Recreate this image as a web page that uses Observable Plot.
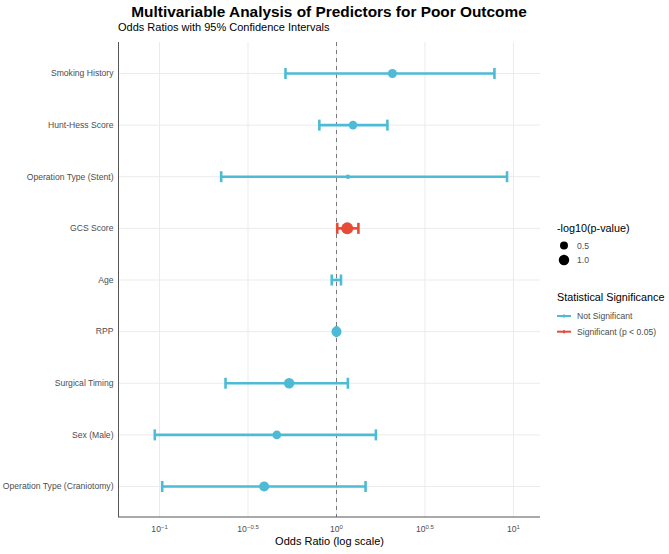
<!DOCTYPE html>
<html>
<head>
<meta charset="utf-8">
<script src="https://cdn.jsdelivr.net/npm/d3@7"></script>
<script src="https://cdn.jsdelivr.net/npm/@observablehq/plot@0.6"></script>
<style>
  body { margin: 0; background: #fff; font-family: "Liberation Sans", Arial, sans-serif; }
  #wrap { position: relative; width: 669px; height: 554px; overflow: hidden; }
  #title { position: absolute; left: 0; width: 658px; top: 3px; text-align: center; font-weight: bold; font-size: 15.4px; color: #000; }
  #subtitle { position: absolute; left: 118px; top: 21px; font-size: 11px; color: #000; }
  #chart { position: absolute; left: 0; top: 0; }
  #legend { position: absolute; left: 0; top: 0; }
</style>
</head>
<body>
<div id="wrap">
  <div id="chart"></div>
  <div id="title">Multivariable Analysis of Predictors for Poor Outcome</div>
  <div id="subtitle">Odds Ratios with 95% Confidence Intervals</div>
  <div id="legend"></div>
</div>
<script>
// ---- data ----
const variables = ["Smoking History","Hunt-Hess Score","Operation Type (Stent)","GCS Score","Age","RPP","Surgical Timing","Sex (Male)","Operation Type (Craniotomy)"];
const oddsRatio = [2.07, 1.24, 1.16, 1.15, 1.00, 1.00, 0.54, 0.46, 0.39];
const ciLower   = [0.515, 0.80, 0.223, 1.01, 0.94, 0.995, 0.236, 0.094, 0.1035];
const ciUpper   = [7.81, 1.94, 9.2, 1.33, 1.06, 1.005, 1.16, 1.67, 1.46];
const negLog10P = [0.69, 0.61, 0.095, 1.4, 0.01, 0.90, 1.03, 0.61, 0.90];
const significance = ["Not Significant","Not Significant","Not Significant","Significant (p < 0.05)","Not Significant","Not Significant","Not Significant","Not Significant","Not Significant"];
const sigLevels = ["Not Significant", "Significant (p < 0.05)"];
const sigColors = ["#4DBBD5", "#E64B35"];
const xTicks = [0.1, Math.pow(10, -0.5), 1, Math.pow(10, 0.5), 10];
const xTickLabels = ["10^-1", "10^-0.5", "10^0", "10^0.5", "10^1"];
const sizeLegendValues = [0.5, 1.0];
const xDomain = [Math.pow(10, -1.232), Math.pow(10, 1.153)];

const rows = variables.map((v, i) => ({
  variable: v, or: oddsRatio[i], lo: ciLower[i], hi: ciUpper[i], lp: negLog10P[i], sig: significance[i]
}));

const W = 669, H = 554;
const mTop = 42, mBottom = 37, mLeft = 118, mRight = 129;
const grid = "#ebebeb";
// vertical cap symbol for error bar ends
const capSymbol = { draw(context) { context.moveTo(0, -5.5); context.lineTo(0, 5.5); } };

const plot = Plot.plot({
  width: W, height: H,
  marginTop: mTop, marginBottom: mBottom, marginLeft: mLeft, marginRight: mRight,
  style: { fontFamily: "'Liberation Sans', Arial, sans-serif", background: "transparent", color: "#4d4d4d" },
  x: { type: "log", domain: xDomain },
  y: { type: "point", domain: variables, padding: 0.6, round: false },
  color: { domain: sigLevels, range: sigColors },
  r: { type: "sqrt", domain: [0, 1.4], range: [1, 6] },
  marks: [
    Plot.ruleX(xTicks, { stroke: grid, strokeWidth: 1 }),
    Plot.ruleY(variables, { stroke: grid, strokeWidth: 1 }),
    Plot.ruleX([1], { stroke: "#777", strokeWidth: 1, strokeDasharray: "4,4" }),
    Plot.ruleX([xDomain[0]], { stroke: "#555", strokeWidth: 1 }),
    Plot.link(rows, { x1: "lo", x2: "hi", y1: "variable", y2: "variable", stroke: "sig", strokeWidth: 2.6 }),
    Plot.dot(rows, { x: "lo", y: "variable", symbol: capSymbol, r: 3, fill: "none", stroke: "sig", strokeWidth: 2.6 }),
    Plot.dot(rows, { x: "hi", y: "variable", symbol: capSymbol, r: 3, fill: "none", stroke: "sig", strokeWidth: 2.6 }),
    Plot.dot(rows, { x: "or", y: "variable", r: "lp", fill: "sig", stroke: "none" }),
    Plot.axisY({ tickSize: 0, tickPadding: 5, fontSize: 8.6, label: null }),
    Plot.axisX({ ticks: xTicks, tickFormat: (d) => xTickLabels[xTicks.indexOf(d)], tickSize: 0, tickPadding: 8, fontSize: 8.6, label: null }),
    Plot.text(["Odds Ratio (log scale)"], { frameAnchor: "bottom", dy: 27, fill: "#000", fontSize: 11 })
  ]
});
document.getElementById("chart").appendChild(plot);

// bottom axis line
const svg = d3.select(plot);
const xs = plot.scale("x"), ys = plot.scale("y");
svg.append("line")
  .attr("x1", xs.range[0]).attr("x2", xs.range[1])
  .attr("y1", ys.range[1]).attr("y2", ys.range[1])
  .attr("stroke", "#555").attr("stroke-width", 1);

// superscript tick labels
svg.selectAll('[aria-label="x-axis tick label"] text').each(function() {
  const t = d3.select(this);
  const s = t.text();
  const parts = s.split("^");
  if (parts.length === 2) {
    t.text(parts[0]);
    t.append("tspan").attr("dy", "-0.45em").attr("font-size", "6px").text(parts[1].replace("-", "\u2212"));
  }
});

// legend
const rS = plot.scale("r");
const leg = d3.select("#legend").append("svg").attr("width", W).attr("height", H)
  .style("font-family", "'Liberation Sans', Arial, sans-serif");
leg.append("text").attr("x", 557).attr("y", 228).attr("dy", "0.35em").attr("font-size", 10.8).attr("fill", "#000").text("-log10(p-value)");
sizeLegendValues.forEach((v, i) => {
  const cy = 245.5 + i * 14.5;
  leg.append("circle").attr("cx", 564).attr("cy", cy).attr("r", rS.apply(v)).attr("fill", "#000");
  leg.append("text").attr("x", 577).attr("y", cy).attr("dy", "0.35em").attr("font-size", 8.6).attr("fill", "#4d4d4d").text(v.toFixed(1));
});
leg.append("text").attr("x", 557).attr("y", 297).attr("dy", "0.35em").attr("font-size", 10.8).attr("fill", "#000").text("Statistical Significance");
sigLevels.forEach((lab, i) => {
  const cy = 316 + i * 15.7;
  leg.append("line").attr("x1", 557).attr("x2", 571).attr("y1", cy).attr("y2", cy).attr("stroke", sigColors[i]).attr("stroke-width", 2);
  leg.append("line").attr("x1", 564).attr("x2", 564).attr("y1", cy - 1.5).attr("y2", cy + 1.5).attr("stroke", sigColors[i]).attr("stroke-width", 2);
  leg.append("text").attr("x", 577).attr("y", cy).attr("dy", "0.35em").attr("font-size", 8.6).attr("fill", "#4d4d4d").text(lab);
});
</script>
</body>
</html>
